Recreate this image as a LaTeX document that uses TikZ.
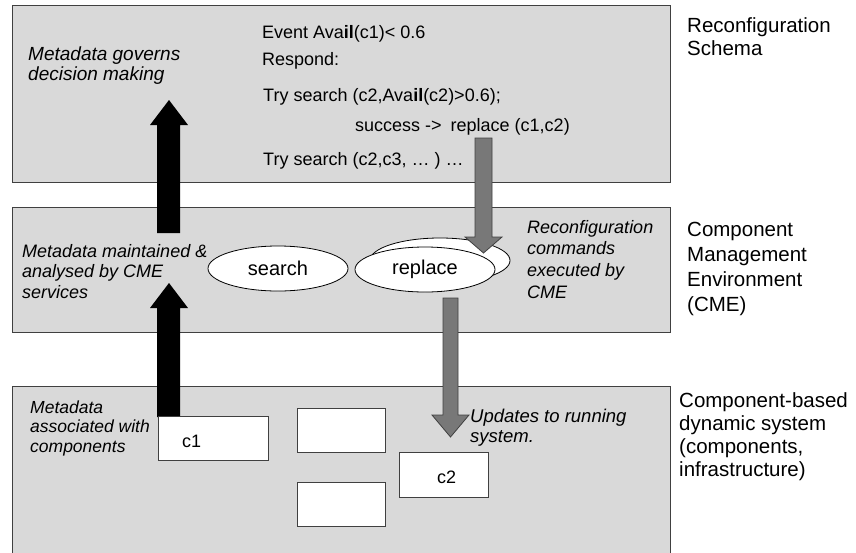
\documentclass[tikz,border=0pt]{standalone}
\usepackage{fontspec}
\setmainfont{Liberation Sans}
\usetikzlibrary{shapes.geometric}
\newcommand\stack[1]{\vtop{\halign{##\hfil\cr#1\crcr}}}
\definecolor{layerfill}{HTML}{D9D9D9}
\definecolor{grayarrow}{HTML}{787878}
\definecolor{edge}{HTML}{404040}
\begin{document}
\begin{tikzpicture}[x=1pt,y=-1pt,
  layerbox/.style={draw=edge, fill=layerfill, line width=0.9pt, rectangle, inner sep=0pt, minimum width=658pt},
  compbox/.style={draw=edge, fill=white, line width=0.9pt, rectangle, inner sep=0pt},
  oval/.style={ellipse, draw=black, fill=white, line width=0.8pt, minimum width=140pt, minimum height=45pt, inner sep=0pt, font=\fontsize{20}{22}\selectfont},
  code/.style={anchor=base west, inner sep=0pt, font=\fontsize{18}{20}\selectfont},
  note/.style={anchor=base west, inner sep=0pt},
  side/.style={anchor=base west, inner sep=0pt},
  upblk/.style={fill=black},
  downgray/.style={fill=grayarrow, draw=edge, line width=0.8pt},
]
\useasboundingbox (0,0) rectangle (856,552);
\clip (0,0) rectangle (856,552);
\fill[white] (0,0) rectangle (856,552);

% layers
\node[layerbox, minimum height=177pt] (schema) at (341,93.5) {};
\node[layerbox, minimum height=125pt] (cme) at (341,269.5) {};
\node[layerbox, minimum height=180pt] (sys) at (341,476) {};

% ellipses
\node[oval] (search) at (278,268.5) {search};
\node[oval] (replaceback) at (440,260.5) {};
\node[oval] (replace) at (425,269.5) {replace};

% black arrows (metadata flow upward)
\coordinate (bu1) at (168.5,233);
\coordinate (bu2) at (168.5,417);
\fill[upblk] (157,233) -- (157,125) -- (150,125) -- (169,100) -- (188,125) -- (180,125) -- (180,233) -- cycle;
\fill[upblk] (157,417) -- (157,308) -- (150,308) -- (169,283) -- (188,308) -- (180,308) -- (180,417) -- cycle;

% components
\node[compbox, minimum width=110pt, minimum height=44pt] (c1) at (213,438) {};
\node[compbox, minimum width=88pt, minimum height=44pt] (b2) at (341,430) {};
\node[compbox, minimum width=88pt, minimum height=44pt] (b3) at (341,504) {};
\node[compbox, minimum width=89pt, minimum height=45pt] (c2) at (443.5,474.5) {};
\node[code] (c1t) at (182,447) {c1};
\node[code] (c2t) at (437,483) {c2};

% gray arrows (commands downward)
\draw[downgray] (475,138) -- (475,237) -- (465,237) -- (483.5,253) -- (502,237) -- (492,237) -- (492,138) -- cycle;
\draw[downgray] (443,298) -- (443,415) -- (432,415) -- (450.5,437) -- (469,415) -- (458,415) -- (458,298) -- cycle;

% code text
\node[code] (l1) at (262,38) {Event Ava\textbf{il}(c1)< 0.6};
\node[code] (l2) at (262,65) {Respond:};
\node[code] (l3) at (263,101) {Try search (c2,Ava\textbf{il}(c2)>0.6);};
\node[code] (l4) at (355,131) {success ->\hspace{4pt} replace (c1,c2)};
\node[code] (l5) at (263,165) {Try search (c2,c3, … ) …};

% italic notes
\node[note, font=\fontsize{19}{20}\selectfont\itshape] (n1) at (28,60) {\stack{Metadata governs\cr decision making}};
\node[note, font=\fontsize{18}{20.5}\selectfont\itshape] (n2) at (22,257) {\stack{Metadata maintained \&\cr analysed by CME\cr services}};
\node[note, font=\fontsize{17.5}{19.5}\selectfont\itshape] (n3) at (30,413) {\stack{Metadata\cr associated with\cr components}};
\node[note, font=\fontsize{18}{21.7}\selectfont\itshape] (n4) at (527,233) {\stack{Reconfiguration\cr commands\cr executed by\cr CME}};
\node[note, font=\fontsize{18.5}{20}\selectfont\itshape] (n5) at (470,422) {\stack{Updates to running\cr system.}};

% side labels
\node[side, font=\fontsize{20.5}{23}\selectfont] (s1) at (687,32) {\stack{Reconfiguration\cr Schema}};
\node[side, font=\fontsize{20.5}{25}\selectfont] (s2) at (687,236) {\stack{Component\cr Management\cr Environment\cr (CME)}};
\node[side, font=\fontsize{20.5}{23}\selectfont] (s3) at (679,407) {\stack{Component-based\cr dynamic system\cr (components,\cr infrastructure)}};
\end{tikzpicture}
\end{document}
